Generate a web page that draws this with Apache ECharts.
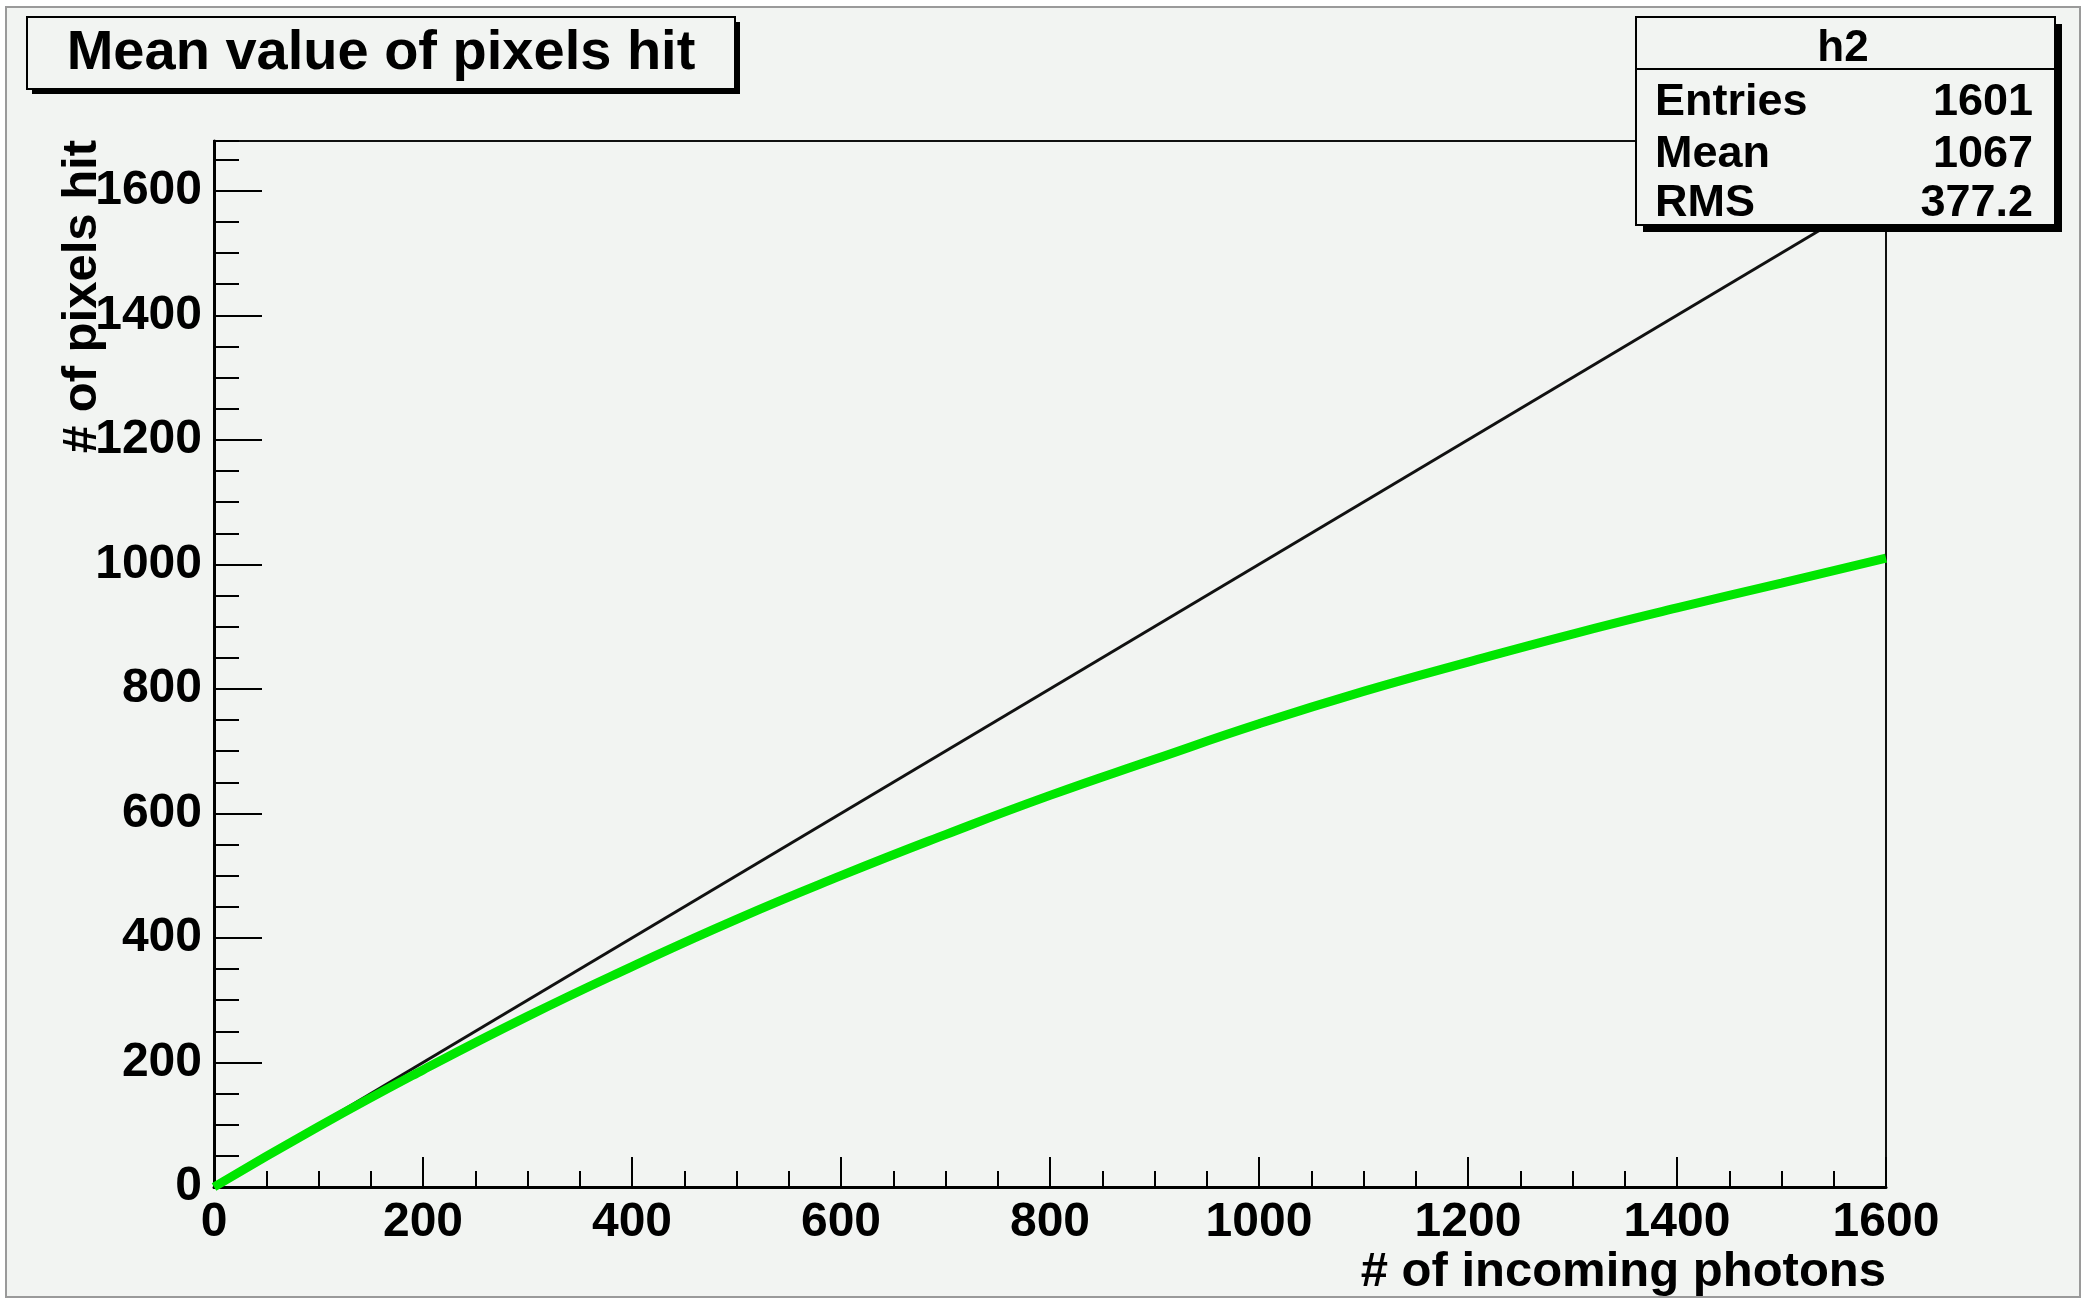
<!DOCTYPE html>
<html>
<head>
<meta charset="utf-8">
<script src="https://cdn.jsdelivr.net/npm/echarts@6/dist/echarts.min.js"></script>
<style>
html,body{margin:0;padding:0;background:#ffffff;}
#chart{width:2085px;height:1302px;}
</style>
</head>
<body>
<div id="chart"></div>
<script>
// ---- data ----
const photons = [0, 100, 200, 300, 400, 500, 600, 700, 800, 900, 1000, 1100, 1200, 1300, 1400, 1500, 1600];
const pixelsHit = [0, 97, 188, 274, 354, 430, 500, 566, 629, 687, 744, 796, 843, 888, 930, 970, 1010];
const idealX = [0, 1600];
const idealY = [0, 1600];
const xTicks = [0, 200, 400, 600, 800, 1000, 1200, 1400, 1600];
const yTicks = [0, 200, 400, 600, 800, 1000, 1200, 1400, 1600];
const titleText = 'Mean value of pixels hit';
const statsName = 'h2';
const statsLabels = ['Entries', 'Mean', 'RMS'];
const statsValues = ['1601', '1067', '377.2'];
const xTitle = '# of incoming photons';
const yTitle = '# of pixels hit';

const FONT = "'Liberation Sans', Arial, Helvetica, sans-serif";
const BG = '#f2f4f2';

const chart = echarts.init(document.getElementById('chart'), null, {renderer: 'canvas'});

const greenData = photons.map((x, i) => [x, pixelsHit[i]]);
const blackData = idealX.map((x, i) => [x, idealY[i]]);

const labelStyle = {color: '#000', fontFamily: FONT, fontWeight: 'bold', fontSize: 48, formatter: v => String(v)};

const graphics = [
  {type: 'rect', shape: {x: 6, y: 7, width: 2074, height: 1290}, style: {fill: BG, stroke: '#9a9a9a', lineWidth: 2}, z: -10, silent: true},
  {type: 'rect', shape: {x: 32, y: 22, width: 708, height: 72}, style: {fill: '#000'}, z: 100},
  {type: 'rect', shape: {x: 27, y: 17, width: 708, height: 72}, style: {fill: BG, stroke: '#000', lineWidth: 2}, z: 101},
  {type: 'text', x: 381, y: 54, style: {text: titleText, font: 'bold 56px ' + FONT, fill: '#000', align: 'center', verticalAlign: 'middle'}, z: 102},
  {type: 'rect', shape: {x: 1643, y: 24, width: 419, height: 208}, style: {fill: '#000'}, z: 100},
  {type: 'rect', shape: {x: 1636, y: 17, width: 419, height: 208}, style: {fill: BG, stroke: '#000', lineWidth: 2}, z: 101},
  {type: 'line', shape: {x1: 1636, y1: 69, x2: 2055, y2: 69}, style: {stroke: '#000', lineWidth: 2}, z: 102},
  {type: 'text', x: 1843, y: 49, style: {text: statsName, font: 'bold 44px ' + FONT, fill: '#000', align: 'center', verticalAlign: 'middle'}, z: 102},
  {type: 'text', x: 1886, y: 1272, style: {text: xTitle, font: 'bold 49px ' + FONT, fill: '#000', align: 'right', verticalAlign: 'middle'}, z: 50},
  {type: 'text', x: 82, y: 140, rotation: Math.PI / 2, style: {text: yTitle, font: 'bold 49px ' + FONT, fill: '#000', align: 'right', verticalAlign: 'middle'}, z: 50}
];
const rowsY = [103, 155, 204];
statsLabels.forEach((lab, i) => {
  graphics.push({type: 'text', x: 1655, y: rowsY[i], style: {text: lab, font: 'bold 45px ' + FONT, fill: '#000', align: 'left', verticalAlign: 'middle'}, z: 102});
  graphics.push({type: 'text', x: 2033, y: rowsY[i], style: {text: statsValues[i], font: 'bold 45px ' + FONT, fill: '#000', align: 'right', verticalAlign: 'middle'}, z: 102});
});

const option = {
  backgroundColor: '#ffffff',
  animation: false,
  grid: {left: 214, top: 141, width: 1672, height: 1046, show: true, borderColor: '#111', borderWidth: 2, backgroundColor: 'transparent', containLabel: false},
  xAxis: {
    type: 'value', min: 0, max: 1600, interval: 200,
    axisLine: {show: true, onZero: false, lineStyle: {color: '#000', width: 3}},
    axisTick: {show: true, inside: true, length: 30, lineStyle: {color: '#000', width: 2}},
    minorTick: {show: true, splitNumber: 4, length: 16, lineStyle: {color: '#000', width: 2}},
    splitLine: {show: false},
    axisLabel: Object.assign({margin: 12, customValues: xTicks}, labelStyle)
  },
  yAxis: [
    {
      type: 'value', min: 0, max: 1680, interval: 200, position: 'left',
      axisLine: {show: true, onZero: false, lineStyle: {color: '#000', width: 3}},
      axisTick: {show: true, inside: true, length: 48, customValues: yTicks, lineStyle: {color: '#000', width: 2}},
      splitLine: {show: false},
      axisLabel: Object.assign({margin: 12, customValues: yTicks}, labelStyle)
    },
    {
      type: 'value', min: 0, max: 1680, interval: 50, position: 'left',
      axisLine: {show: false},
      axisTick: {show: true, inside: true, length: 25, lineStyle: {color: '#000', width: 2}},
      splitLine: {show: false},
      axisLabel: {show: false}
    }
  ],
  series: [
    {
      type: 'line', name: 'ideal', data: blackData, xAxisIndex: 0, yAxisIndex: 0,
      symbol: 'none', lineStyle: {color: '#111', width: 3}, z: 2, silent: true
    },
    {
      type: 'line', name: 'h2', data: greenData, xAxisIndex: 0, yAxisIndex: 0,
      symbol: 'none', smooth: 0.5, lineStyle: {color: '#00e600', width: 9}, z: 3, silent: true
    }
  ],
  graphic: {elements: graphics}
};
chart.setOption(option);
</script>
</body>
</html>
